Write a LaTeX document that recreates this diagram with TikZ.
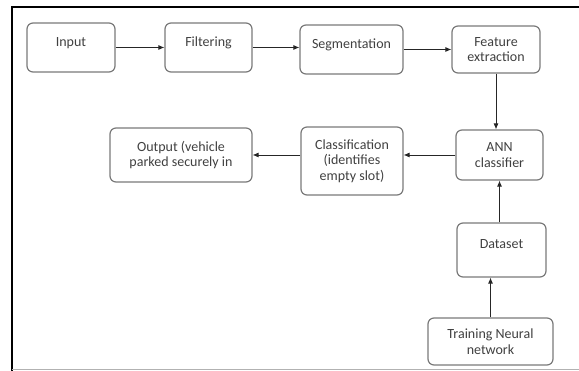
\documentclass[tikz,border=0pt]{standalone}
\usepackage{fontspec}
\setmainfont{Carlito}
\usetikzlibrary{positioning,arrows.meta,shapes}
\tikzset{
block/.style={
  draw=gray!95!black,
  line width=1.2pt,
  rounded corners=6pt,
  text=black!75,
  align=center,
  inner sep=2pt,
  font=\fontsize{14}{15.7}\selectfont
},
oneline/.style={text height=9pt, text depth=11.5pt},
flow/.style={-{Latex[length=6pt,width=5pt]}, line width=0.8pt, draw=black!85},
}

\begin{document}
\begin{tikzpicture}[x=1pt,y=-1pt]
    \useasboundingbox (0,0) rectangle (579,371);
    % frame
    \draw[line width=1.6pt] (12,371) -- (12,7) -- (579,7);
    \draw[gray!60, line width=1pt] (12,370) -- (579,370);

    % top row
    \node[block, oneline, minimum width=88pt, minimum height=49pt] (input) at (71,47.5) {Input};
    \node[block, oneline, minimum width=87pt, minimum height=49pt] (filter) at (208.5,47.5) {Filtering};
    \node[block, oneline, minimum width=103pt, minimum height=49pt] (segm) at (351.5,49.5) {Segmentation};
    \node[block, minimum width=88pt, minimum height=47pt] (feat) at (496,49.5) {Feature\\extraction};

    % middle row
    \node[block, minimum width=87pt, minimum height=50pt] (ann) at (499.5,155) {ANN\\classifier};
    \node[block, minimum width=102pt, minimum height=68pt] (classif) at (352,161) {Classification\\(identifies\\empty slot)};
    \node[block, minimum width=142pt, minimum height=54pt] (output) at (181,155) {Output (vehicle\\parked securely in};

    % right column
    \node[block, oneline, minimum width=89pt, minimum height=54pt] (data) at (501.5,250) {Dataset};
    \node[block, minimum width=125pt, minimum height=47pt] (train) at (490.5,341.5) {Training Neural\\network};

    % connectors
    \draw[flow] (input.east) -- (filter.west);
    \draw[flow] (filter.east) -- (filter.east -| segm.west);
    \draw[flow] (segm.east) -- (segm.east -| feat.west);
    \draw[flow] (feat.south) -- (feat.south |- ann.north);
    \draw[flow] (ann.west) -- (ann.west -| classif.east);
    \draw[flow] (classif.west |- output.east) -- (output.east);
    \draw[flow] (data.north -| ann) -- (ann.south);
    \draw[flow] (train.north) -- (train.north |- data.south);
\end{tikzpicture}
\end{document}
